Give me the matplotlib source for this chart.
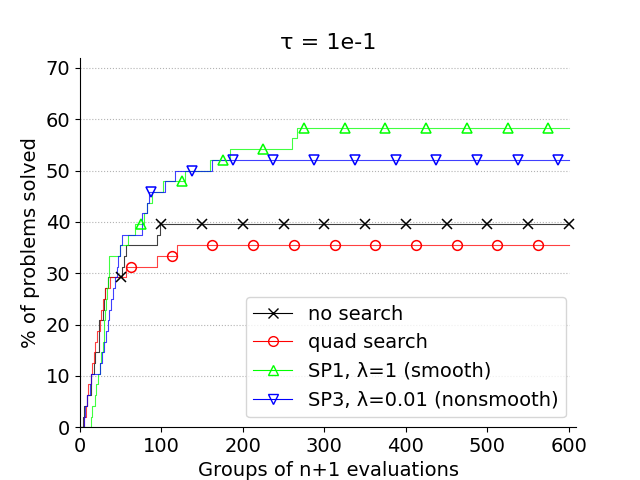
import numpy as np
import matplotlib.pyplot as plt
from matplotlib.lines import Line2D

n_problems = 48

# step breakpoints: group index where the count changes, and problems solved
nosearch_x = [0, 4, 5, 8, 13, 17, 19, 23, 28, 29, 31, 34, 51, 54, 57, 95, 98, 600]
nosearch_k = [0, 1, 2, 3, 5, 6, 7, 10, 11, 12, 13, 14, 15, 16, 17, 18, 19, 19]

quad_x = [0, 5, 7, 9, 10, 13, 15, 17, 19, 21, 24, 26, 28, 31, 37, 56, 94, 119, 600]
quad_k = [0, 1, 2, 3, 4, 5, 6, 7, 8, 9, 10, 11, 12, 13, 14, 15, 16, 17, 17]

sp1_x = [0, 13, 15, 18, 20, 22, 24, 26, 28, 29, 30, 31, 32, 33, 34, 35, 36, 49, 59,
         68, 79, 82, 88, 102, 129, 160, 184, 260, 266, 600]
sp1_k = [0, 1, 2, 3, 4, 5, 6, 7, 8, 9, 10, 11, 12, 13, 14, 15, 16, 17, 18,
         19, 20, 21, 22, 23, 24, 25, 26, 27, 28, 28]

sp3_x = [0, 5, 6, 8, 12, 14, 25, 27, 30, 32, 34, 36, 38, 40, 43, 45, 47, 49, 52,
         76, 82, 85, 104, 117, 162, 600]
sp3_k = [0, 1, 2, 3, 4, 5, 6, 7, 8, 9, 10, 11, 12, 13, 14, 15, 16, 17, 18,
         20, 21, 22, 23, 24, 25, 25]

labels = ['no search', 'quad search', r'SP1, $\lambda$=1 (smooth)', r'SP3, $\lambda$=0.01 (nonsmooth)']
labels = ['no search', 'quad search', 'SP1, λ=1 (smooth)', 'SP3, λ=0.01 (nonsmooth)']
colors = ['k', 'r', 'lime', 'b']
markers = ['x', 'o', '^', 'v']
mark_offsets = [0, 12.5, 25, 37.5]

series = [(nosearch_x, nosearch_k), (quad_x, quad_k), (sp1_x, sp1_k), (sp3_x, sp3_k)]

fig, ax = plt.subplots(figsize=(6.4, 4.8), dpi=100)

# dotted reference lines
ax.hlines(np.arange(10, 71, 10), 0, 600, colors='0.7', linestyles=':', linewidth=0.8, zorder=1)

handles = []
for (x, k), c, m, off, lab in zip(series, colors, markers, mark_offsets, labels):
    x = np.array(x, dtype=float)
    y = 100.0 * np.array(k) / n_problems
    ax.step(x, y, where='post', color=c, linewidth=0.8, alpha=0.75, zorder=2)
    # markers every 50 groups, staggered per solver
    mx = np.arange(50 + off, 601, 50)
    my = y[np.searchsorted(x, mx, side='right') - 1]
    ax.plot(mx, my, linestyle='none', marker=m, markersize=7, markeredgewidth=1.1,
            markerfacecolor='none', markeredgecolor=c, zorder=3)
    handles.append(Line2D([], [], color=c, linewidth=0.8, marker=m, markersize=7,
                          markerfacecolor='none', markeredgecolor=c, label=lab))

ax.set_xlim(0, 609)
ax.set_ylim(0, 72)
ax.set_xticks(np.arange(0, 601, 100))
ax.set_yticks(np.arange(0, 71, 10))
ax.tick_params(labelsize=14)
ax.spines['top'].set_visible(False)
ax.spines['right'].set_visible(False)

ax.set_title('τ = 1e-1', fontsize=16)
ax.set_xlabel('Groups of n+1 evaluations', fontsize=14)
ax.set_ylabel('% of problems solved', fontsize=14)
ax.legend(handles=handles, loc='lower right', fontsize=14)

fig.savefig('out.png', dpi=100)
